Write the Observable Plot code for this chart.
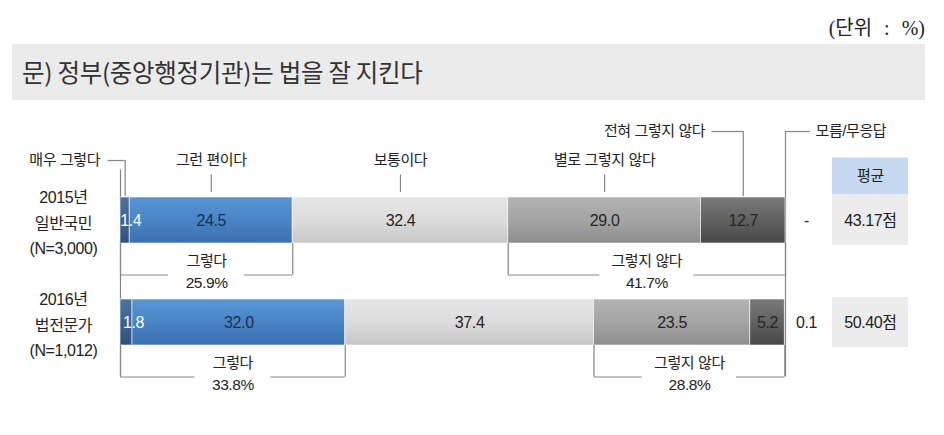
<!DOCTYPE html>
<html><head><meta charset="utf-8">
<script src="https://cdn.jsdelivr.net/npm/d3@7"></script>
<script src="https://cdn.jsdelivr.net/npm/@observablehq/plot@0.6"></script>
<style>
body{margin:0;background:#fff;width:944px;height:435px;overflow:hidden;font-family:'Liberation Sans','Noto Sans CJK KR',sans-serif}
#head{position:relative;height:110px}
#unit{position:absolute;right:19px;top:12px;font:20px 'Liberation Serif','Noto Sans CJK KR',serif;color:#222;word-spacing:7px}
#title{position:absolute;left:12px;top:44px;width:913px;height:56px;background:#ebebeb;box-sizing:border-box;padding-left:10px;font:24.5px 'Noto Sans CJK KR',sans-serif;line-height:56px;color:#333;letter-spacing:-0.3px}
#chart svg{display:block}
#chart svg text{letter-spacing:-0.4px}
</style></head><body>
<svg width="0" height="0" style="position:absolute">
<defs>
<linearGradient id="g0" x1="0" y1="0" x2="0" y2="1"><stop offset="0" stop-color="#4c729f"/><stop offset="0.5" stop-color="#3e6390"/><stop offset="1" stop-color="#30507a"/></linearGradient>
<linearGradient id="g1" x1="0" y1="0" x2="0" y2="1"><stop offset="0" stop-color="#5a95d5"/><stop offset="0.45" stop-color="#4a86c8"/><stop offset="1" stop-color="#3b70ae"/></linearGradient>
<linearGradient id="g2" x1="0" y1="0" x2="0" y2="1"><stop offset="0" stop-color="#e6e6e6"/><stop offset="0.5" stop-color="#dcdcdc"/><stop offset="1" stop-color="#c7c7c7"/></linearGradient>
<linearGradient id="g3" x1="0" y1="0" x2="0" y2="1"><stop offset="0" stop-color="#b3b3b3"/><stop offset="0.5" stop-color="#a4a4a4"/><stop offset="1" stop-color="#8e8e8e"/></linearGradient>
<linearGradient id="g4" x1="0" y1="0" x2="0" y2="1"><stop offset="0" stop-color="#7a7a7a"/><stop offset="0.5" stop-color="#616161"/><stop offset="1" stop-color="#474747"/></linearGradient>
</defs></svg>
<div id="head"><div id="unit"></div><div id="title"></div></div>
<div id="chart"></div>
<script>
// ---- data ----
const title = "문) 정부(중앙행정기관)는 법을 잘 지킨다";
const unitLabel = "(단위 : %)";
const categories = ["매우 그렇다", "그런 편이다", "보통이다", "별로 그렇지 않다", "전혀 그렇지 않다", "모름/무응답"];
const groups = ["2015년\n일반국민\n(N=3,000)", "2016년\n법전문가\n(N=1,012)"];
const values2015 = [1.4, 24.5, 32.4, 29.0, 12.7, null];
const values2016 = [1.8, 32.0, 37.4, 23.5, 5.2, 0.1];
const bracketLabels = ["그렇다", "그렇지 않다"];
const agreeTotals = [25.9, 33.8];
const disagreeTotals = [41.7, 28.8];
const averageHeader = "평균";
const averages = [43.17, 50.40];

document.getElementById("unit").textContent = unitLabel;
document.getElementById("title").textContent = title;

// ---- derived tables ----
const allValues = [values2015, values2016];
const segs = [];
groups.forEach((g, gi) => {
  const vals = allValues[gi];
  let acc = 0;
  for (let ci = 0; ci < 5; ci++) {
    segs.push({group: g, gi, ci, cat: categories[ci], v: vals[ci], x1: acc, x2: acc + vals[ci]});
    acc += vals[ci];
  }
});
const mid = d => (d.x1 + d.x2) / 2;
const GAP = [38, 47];
const brackets = [];
groups.forEach((g, gi) => {
  const s = segs.filter(d => d.gi === gi);
  brackets.push({group: g, k: 0, label: bracketLabels[0], pct: agreeTotals[gi], x1: s[0].x1, x2: s[1].x2});
  brackets.push({group: g, k: 1, label: bracketLabels[1], pct: disagreeTotals[gi], x1: s[3].x1, x2: s[4].x2});
});
const dk = groups.map((g, gi) => ({group: g, v: allValues[gi][5]}));
const avgRows = groups.map((g, gi) => ({group: g, v: averages[gi]}));
const row0 = segs.filter(d => d.gi === 0);

// ---- layout / style ----
const BAND = 46, STEP = 102;
const LINE = "#858585", LW = 1.2;
const FONT = "'Liberation Sans','Noto Sans CJK KR',sans-serif";
const vrule = (data, x, fromDy, toDy) => Plot.ruleX(data, {
  x, y1: "group", y2: "group",
  insetTop: fromDy + BAND / 2, insetBottom: BAND / 2 - toDy,
  stroke: LINE, strokeWidth: LW
});
const TOP1 = -60, TOP2 = -89, BR_LINE = 54.5, BR_T1 = 41, BR_T2 = 63;
const TBL_L = 47, TBL_R = -123, TBL_C = 85;

const plot = Plot.plot({
  width: 944, height: 325,
  marginLeft: 120, marginRight: 159, marginTop: 87, marginBottom: 90,
  x: {domain: [0, 100], axis: null},
  y: {type: "band", domain: groups, axis: null, paddingInner: 1 - BAND / STEP, paddingOuter: 0, round: false},
  color: {domain: categories.slice(0, 5), range: categories.slice(0, 5).map((c, i) => `url(#g${i})`)},
  style: {fontFamily: FONT, fontSize: "15px", color: "#222", background: "transparent"},
  marks: [
    // long guide lines at 0 and 100
    Plot.ruleX([0], {x: d => d, insetTop: -27.5, insetBottom: -31.5, stroke: LINE, strokeWidth: LW}),
    Plot.ruleX([100], {x: d => d, insetTop: -66, insetBottom: -31.5, stroke: LINE, strokeWidth: LW}),
    // bars
    Plot.barX(segs, {x1: "x1", x2: "x2", y: "group", fill: "cat", stroke: "#ffffff", strokeOpacity: 0.6, strokeWidth: 1}),
    // value labels
    Plot.text(segs, {filter: d => d.ci === 0, x: "x2", y: "group", text: d => d.v.toFixed(1), fill: "white", fontSize: 16, dx: 1}),
    Plot.text(segs, {filter: d => d.ci === 1, x: mid, y: "group", text: d => d.v.toFixed(1), fill: "#1b3050", fontSize: 16}),
    Plot.text(segs, {filter: d => d.ci > 1, x: mid, y: "group", text: d => d.v.toFixed(1), fill: "#262626", fontSize: 16}),
    Plot.text(dk, {x: () => 100, y: "group", text: d => d.v == null ? "-" : d.v.toFixed(1), dx: 21, fontSize: 16, fill: "#222"}),
    // top category labels (middle three)
    Plot.text(row0.filter(d => d.ci >= 1 && d.ci <= 3), {x: mid, y: "group", text: "cat", dy: TOP1, fill: "#222"}),
    vrule(row0.filter(d => d.ci >= 1 && d.ci <= 3), mid, -45.5, -28),
    // 매우 그렇다
    Plot.text(row0.filter(d => d.ci === 0), {x: mid, y: "group", text: "cat", textAnchor: "end", dx: -25, dy: TOP1, fill: "#222"}),
    Plot.ruleY(row0.filter(d => d.ci === 0), {y: "group", x1: mid, x2: mid, dy: TOP1, insetLeft: -17, stroke: LINE, strokeWidth: LW}),
    vrule(row0.filter(d => d.ci === 0), mid, TOP1, -24),
    // 전혀 그렇지 않다
    Plot.text(row0.filter(d => d.ci === 4), {x: mid, y: "group", text: "cat", textAnchor: "end", dx: -38, dy: TOP2, fill: "#222"}),
    Plot.ruleY(row0.filter(d => d.ci === 4), {y: "group", x1: mid, x2: mid, dy: TOP2, insetLeft: -31, stroke: LINE, strokeWidth: LW}),
    vrule(row0.filter(d => d.ci === 4), mid, TOP2, -24),
    // 모름/무응답
    Plot.text([categories[5]], {x: () => 100, y: () => groups[0], text: d => d, textAnchor: "start", dx: 30, dy: TOP2, fill: "#222"}),
    Plot.ruleY([categories[5]], {y: () => groups[0], x1: () => 100, x2: () => 100, dy: TOP2, insetRight: -25, stroke: LINE, strokeWidth: LW}),
    // bottom brackets
    vrule(brackets, "x1", 23, BR_LINE),
    vrule(brackets, "x2", 23, BR_LINE),
    ...[0, 1].map(k => Plot.ruleY(brackets.filter(d => d.k === k), {y: "group", x1: "x1", x2: mid, dy: BR_LINE, insetRight: GAP[k], stroke: LINE, strokeWidth: LW})),
    ...[0, 1].map(k => Plot.ruleY(brackets.filter(d => d.k === k), {y: "group", x1: mid, x2: "x2", dy: BR_LINE, insetLeft: GAP[k], stroke: LINE, strokeWidth: LW})),
    Plot.text(brackets, {x: mid, y: "group", text: "label", dy: BR_T1, fill: "#222"}),
    Plot.text(brackets, {x: mid, y: "group", text: d => d.pct.toFixed(1) + "%", dy: BR_T2, fontSize: 15.5, fill: "#222"}),
    // average table
    Plot.barX([groups[0]], {x1: () => 100, x2: () => 100, y: d => d, insetLeft: TBL_L, insetRight: TBL_R, insetTop: -39.5, insetBottom: 48.5, fill: "#c6d9f1"}),
    Plot.text([averageHeader], {x: () => 100, y: () => groups[0], text: d => d, dx: TBL_C, dy: -44, fill: "#222"}),
    Plot.barX(avgRows, {x1: () => 100, x2: () => 100, y: "group", insetLeft: TBL_L, insetRight: TBL_R, insetTop: -2, insetBottom: -2, fill: "#ececec"}),
    Plot.text(avgRows, {x: () => 100, y: "group", text: d => d.v.toFixed(2) + "점", dx: TBL_C, fontSize: 16, fill: "#222"}),
    // row labels
    Plot.text(groups, {x: () => 0, y: d => d, text: d => d, dx: -57, fontSize: 16, lineHeight: 1.6, fill: "#222"})
  ]
});
document.getElementById("chart").appendChild(plot);
</script></body></html>
